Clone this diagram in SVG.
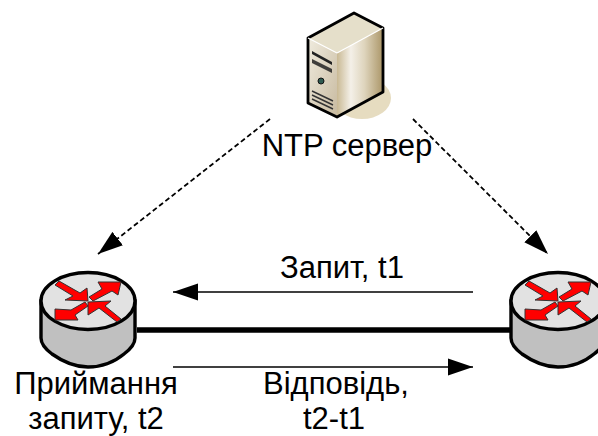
<svg xmlns="http://www.w3.org/2000/svg" width="598" height="436" viewBox="0 0 598 436">
<style>
text{font-family:"Liberation Sans",Arial,sans-serif;font-size:31px;fill:#000;text-anchor:middle}
.thin{stroke:#000;stroke-width:1.6;fill:none}
.dash{stroke:#000;stroke-width:1.8;stroke-dasharray:5 3;fill:none}
.arr{fill:#f00;stroke:#333;stroke-width:1;stroke-linejoin:miter}
</style>
<defs>
<marker id="ah" markerUnits="userSpaceOnUse" markerWidth="26" markerHeight="18" refX="25" refY="9" orient="auto"><path d="M0 0.5 L25 9 L0 17.5Z" fill="#000"/></marker>
<marker id="ad" markerUnits="userSpaceOnUse" markerWidth="26" markerHeight="18" refX="25" refY="9" orient="auto"><path d="M0 0.5 L25 9 L0 17.5Z" fill="#000"/></marker>
<linearGradient id="side" x1="0" x2="1" y1="0" y2="0"><stop offset="0" stop-color="#c9b994"/><stop offset=".3" stop-color="#f4f0e8"/><stop offset=".6" stop-color="#ded4bc"/><stop offset="1" stop-color="#ab9668"/></linearGradient>
<linearGradient id="front" x1="0" x2="1" y1="0" y2="1"><stop offset="0" stop-color="#f0ecdf"/><stop offset="1" stop-color="#c8baa0"/></linearGradient>
<g id="router">
<path d="M-47 0 V37 C-47 41 -44 47 -36 53 C-22 63 -10 66 0 66 C10 66 24 63 36 53 C44 47 47 41 47 37 V0Z" fill="#c0c0c0" stroke="#000" stroke-width="3.4"/>
<ellipse cx="0" cy="0" rx="47" ry="28.5" fill="#e2e2e2" stroke="#000" stroke-width="3.4"/>
<path class="arr" d="M-33 -16 L-29 -20 L-8 -8 L-1 -13 L0 0 L-23 -1 L-15 -5Z"/>
<path class="arr" d="M1 -4 L14 -12 L10 -19 L33 -19 L30 -6 L24 -10 L5 0Z"/>
<path class="arr" d="M-3 1 L-17 9 L-33 8 L-33 19 L-10 19 L-13 14 L0 5Z"/>
<path class="arr" d="M33 18 L29 21 L11 7 L0 14 L0 1 L23 0 L17 5Z"/>
</g>
</defs>
<g id="server">
<ellipse cx="362" cy="98" rx="29" ry="21" fill="#e6dcc0"/>
<path d="M308 38 L354 13 L383 28 L337 53Z" fill="#e5dfca"/>
<path d="M337 53 L383 28 V92 L337 117Z" fill="url(#side)"/>
<path d="M308 38 L337 53 V117 L308 103Z" fill="url(#front)"/>
<path d="M308 38 L354 13 L383 28 V92 L337 117 L308 103Z" fill="none" stroke="#000" stroke-width="2.8" stroke-linejoin="round"/>
<path d="M337 53 L383 28" stroke="#fff" stroke-width="1.2"/>
<path d="M337 53 L308 38" stroke="#fff" stroke-width="1.2"/>
<path d="M312 51 L332 62 V65 L312 54Z" fill="#222"/>
<path d="M312 59 L332 69 V73 L312 63Z" fill="#222" opacity=".85"/>
<circle cx="321" cy="81" r="3" fill="#2e5a50" stroke="#111"/>
<path d="M312 91 L333 101 M312 95 L333 105 M312 99 L333 109" stroke="#333" stroke-width="1.4"/>
</g>
<g id="connectors">
<path d="M137 330 H510" stroke="#000" stroke-width="5.5"/>
<path class="dash" d="M270 119 L98 254" marker-end="url(#ad)"/>
<path class="dash" d="M413 119 L548 254" marker-end="url(#ad)"/>
<path class="thin" d="M473 292 H173" marker-end="url(#ah)"/>
<path class="thin" d="M173 367 H473" marker-end="url(#ah)"/>
</g>
<use id="router-left" href="#router" x="88" y="301"/>
<use id="router-right" href="#router" x="558" y="301"/>
<g id="labels">
<text x="347" y="156">NTP сервер</text>
<text x="342" y="278">Запит, t1</text>
<text x="96" y="394">Приймання</text>
<text x="96" y="429">запиту, t2</text>
<text x="336" y="394">Відповідь,</text>
<text x="334" y="429">t2-t1</text>
</g>
</svg>
